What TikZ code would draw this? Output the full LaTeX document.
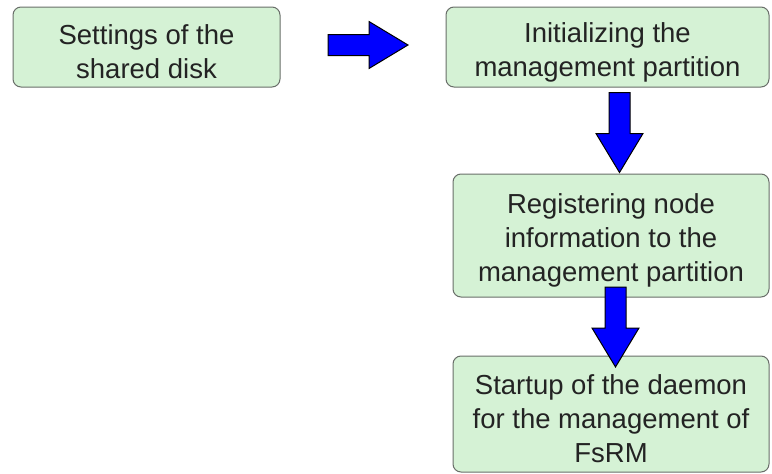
\documentclass[tikz,border=0pt]{standalone}
\usepackage{fontspec}
\setmainfont{Liberation Sans}
\definecolor{boxfill}{RGB}{213,242,213}
\definecolor{boxline}{RGB}{105,110,105}
\definecolor{textgray}{RGB}{35,35,35}
\tikzset{
  stepbox/.style={draw=boxline, line width=1pt, fill=boxfill, rounded corners=8pt,
    inner sep=0pt},
  steptext/.style={align=center, text=textgray, inner sep=0pt, yshift=-5pt,
    font=\fontsize{27.5}{34}\selectfont},
  blockfill/.style={draw=black, line width=1pt, fill=blue, line join=miter},
  % a fat block arrow pointing along +x, centred on the pic origin
  blockarrow/.pic={
    \draw[blockfill] (-40,-10.5) -- (1,-10.5) -- (1,-23.5) -- (40,0)
      -- (1,23.5) -- (1,10.5) -- (-40,10.5) -- cycle;
  }
}
\begin{document}
\begin{tikzpicture}[x=1pt,y=-1pt]
  \useasboundingbox (0,0) rectangle (772,474);
  % process steps
  \node[stepbox, minimum width=267pt, minimum height=80pt] (disk) at (146.5,47) {};
  \node[steptext] (disktext) at (disk.center) {Settings of the\\shared disk};
  \node[stepbox, minimum width=323pt, minimum height=80pt] (init) at (607.5,47) {};
  \node[steptext] (inittext) at (init.center) {Initializing the\\management partition};
  \node[stepbox, minimum width=316pt, minimum height=123pt] (reg) at (611,235.5) {};
  \node[steptext] (regtext) at (reg.center)
    {Registering node\\information to the\\management partition};
  \node[stepbox, minimum width=316pt, minimum height=116pt] (daemon) at (611,414) {};
  \node[steptext] (daemontext) at (daemon.center)
    {Startup of the daemon\\for the management of\\FsRM};
  % block arrows between the steps
  \pic at (368,45) {blockarrow};
  \pic[rotate=-90] at (619.5,132.5) {blockarrow};
  \pic[rotate=-90] at (615.5,327) {blockarrow};
\end{tikzpicture}
\end{document}
